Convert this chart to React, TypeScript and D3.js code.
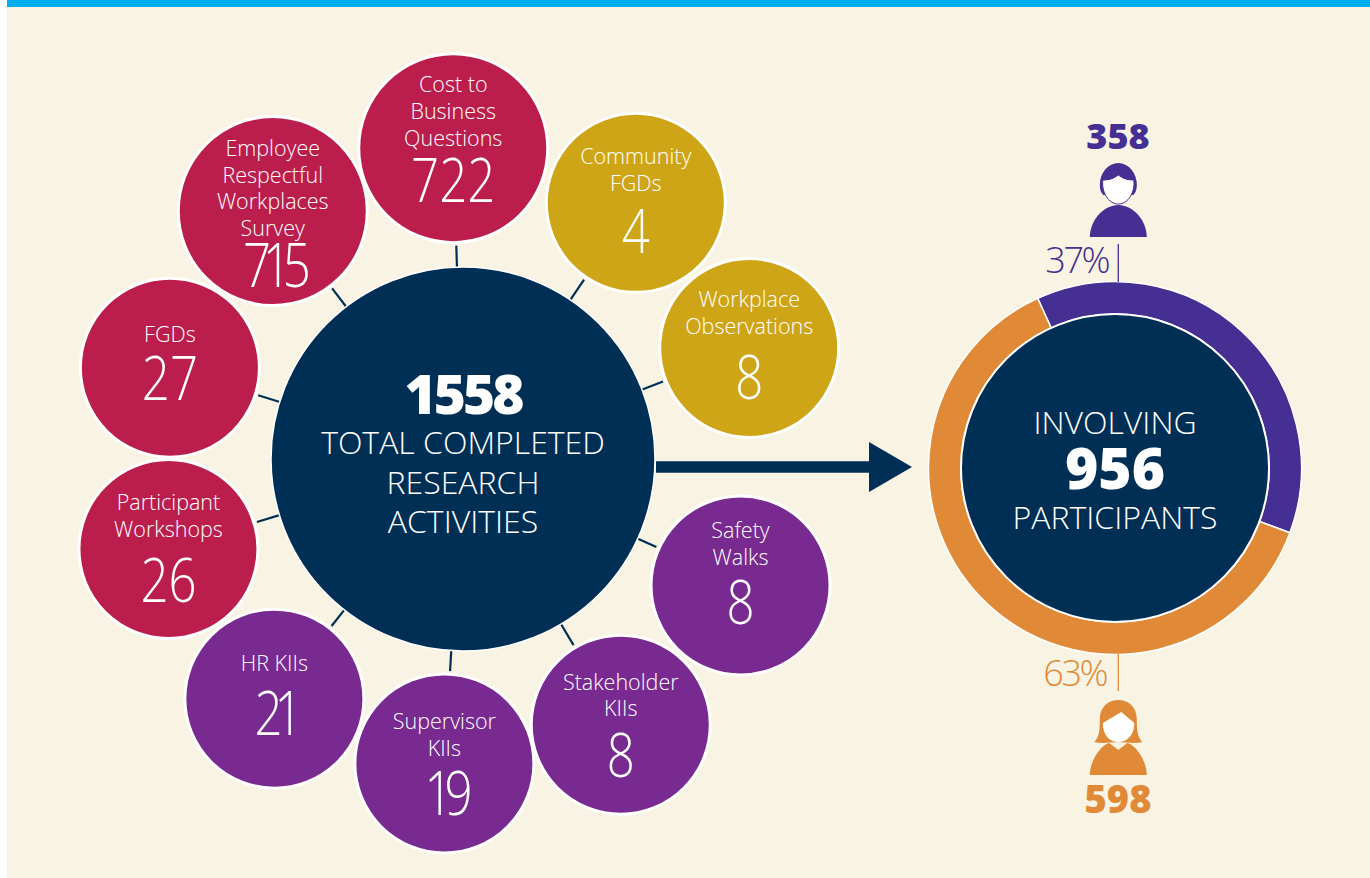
import React from "react";
import * as d3 from "d3";

// Research activities, clockwise from the top
const activityLabels = [
  ["Cost to", "Business", "Questions"],
  ["Community", "FGDs"],
  ["Workplace", "Observations"],
  ["Safety", "Walks"],
  ["Stakeholder", "KIIs"],
  ["Supervisor", "KIIs"],
  ["HR KIIs"],
  ["Participant", "Workshops"],
  ["FGDs"],
  ["Employee", "Respectful", "Workplaces", "Survey"],
];
const activityValues = [722, 4, 8, 8, 8, 19, 21, 26, 27, 715];
const activityGroups = ["quant", "community", "community", "kii", "kii", "kii", "kii", "quant", "quant", "quant"];

const participantLabels = ["Men", "Women"];
const participantValues = [358, 598];
const participantShares = ["37%", "63%"];

const totalActivities = 1558;
const totalParticipants = 956;
const centreLines = ["TOTAL COMPLETED", "RESEARCH", "ACTIVITIES"];

const NAVY = "#002f56";
const PURPLE = "#452f92";
const ORANGE = "#e08a37";
const CREAM = "#f9f3e3";
const groupColor = d3
  .scaleOrdinal<string, string>()
  .domain(["quant", "community", "kii"])
  .range(["#bb1e4d", "#cea517", "#782a90"]);

const LIGHT = "'Open Sans', sans-serif";
const BOLD = "'Open Sans', sans-serif";

// layout of the ring of bubbles around the hub
const hub = { x: 463, y: 459, r: 192 };
const bubbleAngles = [-1.8, 34, 68.8, 114.5, 149.3, 183.5, 218.2, 253, 287.3, 322.5];
const bubbleOrbit = [311, 309, 307, 305, 309, 305, 305, 308, 307, 312.5];
const bubbleSize = [94.5, 89.5, 89.5, 89.5, 89.5, 89.5, 89.5, 89.5, 89.5, 94.5];
// baseline of the first label line and of the number, relative to the bubble centre
const labelTop = [-56, -39, -41, -47, -35, -34, -28, -39, -26, -55];
const numberDrop = [54, 50, 51, 39, 52, 52, 36, 53, 32, 76];

function Bubble({ i }: { i: number }) {
  const a = (bubbleAngles[i] * Math.PI) / 180;
  const [px, py] = d3.pointRadial(a, bubbleOrbit[i]);
  const x = hub.x + px;
  const y = hub.y + py;
  const r = bubbleSize[i];
  const lines = activityLabels[i];
  // spoke runs from hub edge to just short of the bubble
  const [sx0, sy0] = d3.pointRadial(a, hub.r - 1);
  const [sx1, sy1] = d3.pointRadial(a, bubbleOrbit[i] - r - 3);
  const label = String(activityValues[i]);
  return (
    <g>
      <line x1={hub.x + sx0} y1={hub.y + sy0} x2={hub.x + sx1} y2={hub.y + sy1} stroke={NAVY} strokeWidth={2.2} />
      <circle cx={x} cy={y} r={r} fill={groupColor(activityGroups[i])} stroke="#fff" strokeWidth={3} />
      <text textAnchor="middle" fill="#fff" fontFamily={LIGHT} fontWeight={300} fontSize={21.5}>
        {lines.map((l, k) => (
          <tspan key={k} x={x} y={y + labelTop[i] + k * 26.7}>
            {l}
          </tspan>
        ))}
      </text>
      {/* reference numerals are condensed, with a narrow 1 */}
      <text
        transform={`translate(${x},${y + numberDrop[i]}) scale(0.82,1)`}
        textAnchor="middle"
        fill="#fff"
        fontFamily={LIGHT}
        fontWeight={300}
        fontSize={60}
        letterSpacing={label.includes("1") ? -10 : 0}
      >
        {label}
      </text>
    </g>
  );
}

function Donut() {
  const cx = 1115;
  const cy = 468;
  const pie = d3
    .pie<number>()
    .sort(null)
    .startAngle((-24.5 * Math.PI) / 180)
    .endAngle((335.5 * Math.PI) / 180);
  const arc = d3.arc<d3.PieArcDatum<number>>().innerRadius(154).outerRadius(186.5);
  const arcs = pie(participantValues);
  const colors = [PURPLE, ORANGE];
  return (
    <g>
      <g transform={`translate(${cx},${cy})`}>
        {arcs.map((d, i) => (
          <path key={participantLabels[i]} d={arc(d) ?? ""} fill={colors[i]} stroke="#fff" strokeWidth={1.5} />
        ))}
        <circle r={154} fill={NAVY} stroke="#fff" strokeWidth={2} />
      </g>
      <text x={cx} y={434} textAnchor="middle" fill="#fff" fontFamily={LIGHT} fontWeight={300} fontSize={32}>
        INVOLVING
      </text>
      <text x={cx} y={489} textAnchor="middle" fill="#fff" fontFamily={BOLD} fontWeight={800} fontSize={57}>
        {totalParticipants}
      </text>
      <text x={cx} y={529} textAnchor="middle" fill="#fff" fontFamily={LIGHT} fontWeight={300} fontSize={32}>
        PARTICIPANTS
      </text>

      {/* top: men */}
      <line x1={1118.3} y1={244} x2={1118.3} y2={282} stroke={PURPLE} strokeWidth={1.3} />
      <text x={1108} y={273} textAnchor="end" fill={PURPLE} fontFamily={LIGHT} fontWeight={300} fontSize={36} letterSpacing={-2.5}>
        {participantShares[0]}
      </text>
      <text x={1118} y={149} textAnchor="middle" fill={PURPLE} fontFamily={BOLD} fontWeight={800} fontSize={36}>
        {participantValues[0]}
      </text>
      <g transform="translate(1118.3,237)" fill={PURPLE}>
        <path d="M-28.5 0 C-28 -18 -14 -32 0 -32 C14 -32 28 -18 28.5 0 Z" />
        <path d="M-18.5 -52 A18.5 22 0 0 1 18.5 -52 C18.5 -47 17 -44 15 -42 L-15 -42 C-17 -44 -18.5 -47 -18.5 -52 Z" />
        <path
          d="M-15.5 -57 C-8 -57 -4 -59 0 -62 C4 -59 8 -57 15.5 -57 C17 -45 10 -33 0 -33 C-10 -33 -17 -45 -15.5 -57 Z"
          fill="#fff"
          stroke={PURPLE}
          strokeWidth={1}
        />
      </g>

      {/* bottom: women */}
      <line x1={1118.3} y1={654} x2={1118.3} y2={691} stroke={ORANGE} strokeWidth={1.3} />
      <text x={1106} y={686} textAnchor="end" fill={ORANGE} fontFamily={LIGHT} fontWeight={300} fontSize={36} letterSpacing={-2.5}>
        {participantShares[1]}
      </text>
      <text x={1118} y={813} textAnchor="middle" fill={ORANGE} fontFamily={BOLD} fontWeight={800} fontSize={38}>
        {participantValues[1]}
      </text>
      <g transform="translate(1118.3,775)" fill={ORANGE}>
        <path d="M-28.5 0 C-28 -18 -14 -32 -9 -32 L0 -25 L9 -32 C14 -32 28 -18 28.5 0 Z" />
        <path d="M-18.5 -56 C-18.5 -68 -10 -75 0 -75 C10 -75 18.5 -68 18.5 -56 C18.5 -45 19 -38 24 -33 C16 -31 8 -33 0 -33 C-8 -33 -16 -31 -24 -33 C-19 -38 -18.5 -45 -18.5 -56 Z" />
        <path d="M-15.5 -52 L3 -63 L16 -52 C16 -40 9 -33 0 -33 C-9 -33 -15.5 -40 -15.5 -52 Z" fill="#fff" />
      </g>
    </g>
  );
}

export default function App() {
  return (
    <svg width={1370} height={878} style={{ position: "absolute", left: 0, top: 0 }}>
      <rect x={0} y={0} width={1370} height={878} fill="#fff" />
      <rect x={7} y={7} width={1363} height={871} fill={CREAM} />
      <rect x={7} y={0} width={1363} height={7} fill="#00aeef" />

      {activityValues.map((_, i) => (
        <Bubble key={i} i={i} />
      ))}

      <circle cx={hub.x} cy={hub.y} r={hub.r} fill={NAVY} stroke="#fff" strokeWidth={1.5} />
      <text x={hub.x} y={414} textAnchor="middle" fill="#fff" fontFamily={BOLD} fontWeight={800} fontSize={55} letterSpacing={-3}>
        {totalActivities}
      </text>
      <text textAnchor="middle" fill="#fff" fontFamily={LIGHT} fontWeight={300} fontSize={32}>
        {centreLines.map((l, k) => (
          <tspan key={l} x={hub.x} y={454 + k * 39.5}>
            {l}
          </tspan>
        ))}
      </text>

      {/* arrow to the participants ring */}
      <line x1={656} y1={467} x2={870} y2={467} stroke={NAVY} strokeWidth={11.5} />
      <path d="M869 442 L912 467 L869 492 Z" fill={NAVY} />

      <Donut />
    </svg>
  );
}
